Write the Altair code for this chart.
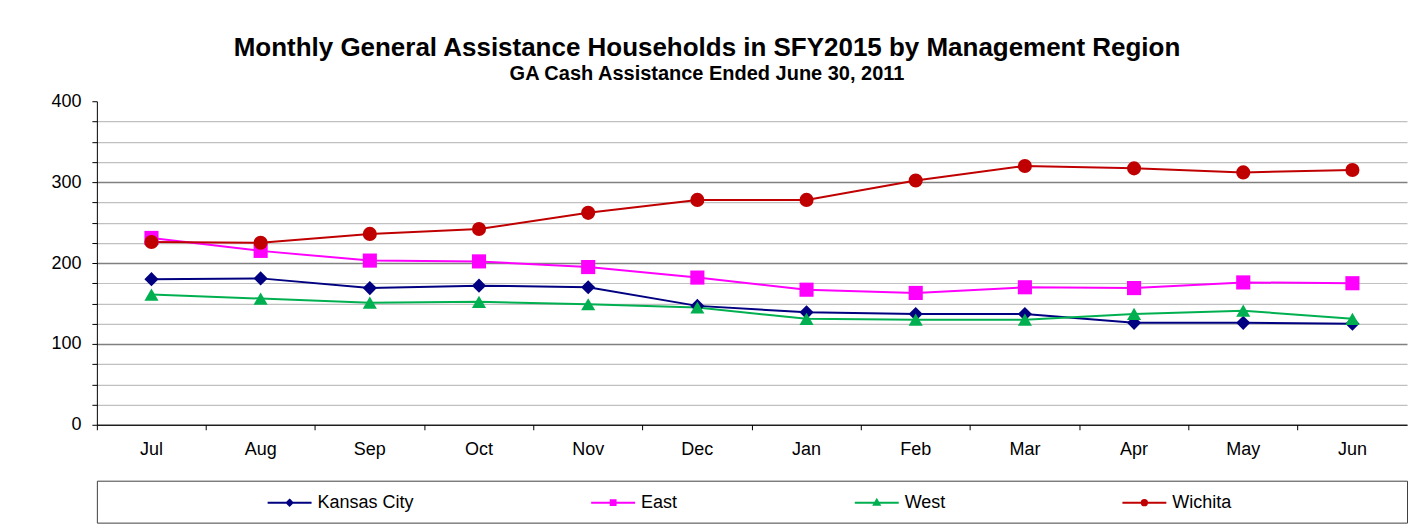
import altair as alt
import pandas as pd

months = ["Jul", "Aug", "Sep", "Oct", "Nov", "Dec", "Jan", "Feb", "Mar", "Apr", "May", "Jun"]
series = ["Kansas City", "East", "West", "Wichita"]
kansas_city = [180, 181, 169, 172, 170, 147, 139, 137, 137, 126, 126, 125]
east = [231, 215, 203, 202, 195, 182, 167, 163, 170, 169, 176, 175]
west = [161, 156, 151, 152, 149, 145, 131, 130, 130, 137, 141, 131]
wichita = [226, 225, 236, 242, 262, 278, 278, 302, 320, 317, 312, 315]
colors = ["#000080", "#FF00FF", "#00B050", "#C00000"]
shapes = ["diamond", "square", "triangle-up", "circle"]
# legend symbols: a short line with a small marker on it
legend_shapes = [
    "M-1,0H1M0,-0.13L0.13,0L0,0.13L-0.13,0Z",
    "M-1,0H1M-0.11,-0.11H0.11V0.11H-0.11Z",
    "M-1,0H1M0,-0.13L0.13,0.1H-0.13Z",
    "M-1,0H1M0.12,0A0.12,0.12,0,1,1,-0.12,0A0.12,0.12,0,1,1,0.12,0Z",
]
y_ticks = list(range(0, 401, 25))

values = [kansas_city, east, west, wichita]
rows = []
for s, vals in zip(series, values):
    for m, v in zip(months, vals):
        rows.append({"series": s, "month": m, "value": v})
df = pd.DataFrame(rows)
leg_df = pd.DataFrame({"series": series})

FONT = "Liberation Sans"
W = 1312
H = 324

color_enc = alt.Color("series:N", scale=alt.Scale(domain=series, range=colors), legend=None)
shape_enc = alt.Shape("series:N", scale=alt.Scale(domain=series, range=shapes), legend=None)

x_enc = alt.X(
    "month:N", sort=months,
    scale=alt.Scale(type="band", paddingInner=0, paddingOuter=0),
    axis=alt.Axis(
        title=None, bandPosition=0, labelAngle=0,
        tickSize=5, tickColor="#000000", domainColor="#000000",
        labelFont=FONT, labelFontSize=18, labelColor="#000000", labelPadding=11,
        grid=False,
    ),
)
y_enc = alt.Y(
    "value:Q",
    scale=alt.Scale(domain=[0, 400], nice=False),
    axis=alt.Axis(
        title=None, values=y_ticks,
        labelExpr="datum.value % 100 === 0 ? datum.label : ''",
        tickSize=5, tickColor="#000000", domainColor="#000000",
        labelFont=FONT, labelFontSize=18, labelColor="#000000", labelPadding=11,
        grid=True,
        gridColor={"condition": {"test": "datum.value % 100 === 0", "value": "#808080"}, "value": "#C0C0C0"},
        gridWidth={"condition": {"test": "datum.value % 100 === 0", "value": 1.5}, "value": 1.2},
        gridOpacity={"condition": {"test": "datum.value >= 400", "value": 0}, "value": 1},
    ),
)

lines = alt.Chart(df).mark_line(strokeWidth=2).encode(x=x_enc, y=y_enc, color=color_enc, detail="series:N")
points = alt.Chart(df).mark_point(filled=True, opacity=1, size=200).encode(
    x=x_enc, y=y_enc, color=color_enc, shape=shape_enc
)

main = alt.layer(lines, points).properties(
    width=W, height=H, view=alt.ViewBackground(stroke="transparent")
)

leg_common = dict(
    title=None, orient="none", direction="horizontal", legendX=170, legendY=-1,
    symbolSize=44 * 44, symbolStrokeWidth=2, symbolOpacity=1,
    labelFont=FONT, labelFontSize=18, labelColor="#000000", labelOffset=5, labelLimit=400,
    columnPadding=173, padding=0, gridAlign="none",
)
legend = alt.Chart(leg_df).mark_point(filled=True, opacity=0, strokeWidth=2).encode(
    fill=alt.Fill("series:N", scale=alt.Scale(domain=series, range=colors), legend=alt.Legend(**leg_common)),
    stroke=alt.Stroke("series:N", scale=alt.Scale(domain=series, range=colors), legend=alt.Legend(**leg_common)),
    shape=alt.Shape("series:N", scale=alt.Scale(domain=series, range=legend_shapes), legend=alt.Legend(**leg_common)),
).properties(
    width=W, height=42, view=alt.ViewBackground(stroke="#404040", strokeWidth=1)
)

chart = alt.vconcat(main, legend, spacing=19).resolve_scale(
    shape="independent", fill="independent", stroke="independent"
).resolve_legend(
    shape="independent", fill="independent", stroke="independent"
).properties(
    title=alt.TitleParams(
        text="Monthly General Assistance Households in SFY2015 by Management Region",
        subtitle="GA Cash Assistance Ended June 30, 2011",
        font=FONT, fontSize=26, fontWeight="bold", color="#000000",
        subtitleFont=FONT, subtitleFontSize=20, subtitleFontWeight="bold", subtitleColor="#000000",
        subtitlePadding=3, anchor="middle", offset=8, dx=-22,
    ),
    padding={"left": 42, "top": 26, "right": 5, "bottom": 5},
    background="white",
)

chart.save("out.html", embed_options={"renderer": "svg", "actions": False})
